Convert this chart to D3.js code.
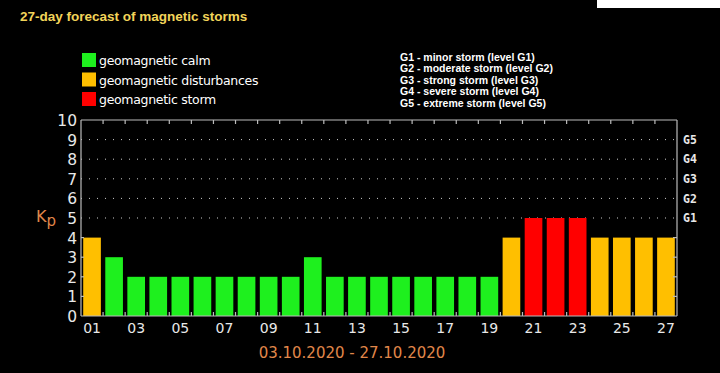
<!DOCTYPE html>
<html><head><meta charset="utf-8">
<script src="https://cdn.jsdelivr.net/npm/d3@7"></script>
<style>html,body{margin:0;padding:0;background:#000;overflow:hidden}</style>
</head><body>
<svg id="c" width="720" height="373"></svg>
<script>
const days = ["01","02","03","04","05","06","07","08","09","10","11","12","13","14","15","16","17","18","19","20","21","22","23","24","25","26","27"];
const kp = [4,3,2,2,2,2,2,2,2,2,3,2,2,2,2,2,2,2,2,4,5,5,5,4,4,4,4];
const yTicks = [0,1,2,3,4,5,6,7,8,9,10];
const gLevels = ["G1","G2","G3","G4","G5"];
const gValues = [5,6,7,8,9];
const legendLabels = ["geomagnetic calm","geomagnetic disturbances","geomagnetic storm"];
const legendColors = ["#1ef01e","#ffbf00","#ff0000"];
const gLegend = ["G1 - minor storm (level G1)","G2 - moderate storm (level G2)","G3 - strong storm (level G3)","G4 - severe storm (level G4)","G5 - extreme storm (level G5)"];
const title = "27-day forecast of magnetic storms";
const dateRange = "03.10.2020 - 27.10.2020";

const svg = d3.select("#c");
svg.append("rect").attr("width",720).attr("height",373).attr("fill","#000");
svg.append("rect").attr("x",597).attr("y",0).attr("width",123).attr("height",8).attr("fill","#fff");

const L=81, R=677, T=120, B=316;
const x = d3.scaleBand().domain(days).range([L,R]).paddingInner(0.2).paddingOuter(0.1);
const xb = d3.scaleBand().domain(days).range([L,R]);
const y = d3.scaleLinear().domain([0,10]).range([B,T]);
const col = v => v>=5 ? legendColors[2] : (v>=4 ? legendColors[1] : legendColors[0]);

svg.append("text").attr("x",20).attr("y",21).text(title)
  .attr("fill","#f2d45a").attr("font-family","Liberation Sans, Arial").attr("font-weight","bold").attr("font-size",13.5);

const lg = svg.append("g");
legendLabels.forEach((t,i)=>{
  lg.append("rect").attr("x",82).attr("y",53+i*19.5).attr("width",14).attr("height",14).attr("fill",legendColors[i]);
  lg.append("text").attr("x",99).attr("y",65+i*19.5).text(t).attr("fill","#fff")
    .attr("font-family","DejaVu Sans").attr("font-size",12.5).attr("letter-spacing",-0.3);
});
gLegend.forEach((t,i)=>{
  svg.append("text").attr("x",400).attr("y",61+i*11.4).text(t).attr("fill","#fff")
    .attr("font-family","Liberation Sans, Arial").attr("font-weight","bold").attr("font-size",10.5);
});

// dotted grid
const grid = svg.append("g");
gValues.forEach(v=>{
  grid.append("line").attr("x1",L).attr("x2",R).attr("y1",y(v)).attr("y2",y(v))
    .attr("stroke","#ccc").attr("stroke-width",1).attr("stroke-dasharray","1,7");
});

// bars
svg.append("g").selectAll("rect").data(kp).join("rect")
  .attr("x",(d,i)=>x(days[i])).attr("width",x.bandwidth())
  .attr("y",d=>y(d)).attr("height",d=>y(0)-y(d)).attr("fill",d=>col(d));

// frame
const fr = svg.append("g").attr("stroke","#bbb").attr("stroke-width",1.2);
fr.append("line").attr("x1",L).attr("x2",R).attr("y1",T).attr("y2",T);
fr.append("line").attr("x1",L).attr("x2",R).attr("y1",B).attr("y2",B);
fr.append("line").attr("x1",L).attr("x2",L).attr("y1",T).attr("y2",B);
fr.append("line").attr("x1",R).attr("x2",R).attr("y1",T).attr("y2",B);

// band boundary ticks top & bottom
days.slice(1).forEach(d=>{
  const xx = xb(d);
  fr.append("line").attr("x1",xx).attr("x2",xx).attr("y1",T).attr("y2",T+4);
  fr.append("line").attr("x1",xx).attr("x2",xx).attr("y1",B).attr("y2",B-4);
});
// right ticks
[1,2,3,4].forEach(v=>{
  fr.append("line").attr("x1",R).attr("x2",R-4).attr("y1",y(v)).attr("y2",y(v));
  fr.append("line").attr("x1",L).attr("x2",L+3).attr("y1",y(v)).attr("y2",y(v));
});

// left axis
const yAxis = d3.axisLeft(y).tickValues(yTicks).tickSize(0).tickPadding(4);
const ya = svg.append("g").attr("transform",`translate(${L},0)`).call(yAxis);
ya.select(".domain").remove();
ya.selectAll("text").attr("fill","#e8e8e8").attr("font-family","DejaVu Sans").attr("font-size",15.5).attr("dy","0.36em");

// right G axis
const gScale = d3.scaleOrdinal().domain(gLevels).range(gValues.map(v=>y(v)));
const ra = svg.append("g").attr("transform",`translate(${R},0)`)
  .call(d3.axisRight(y).tickValues(gValues).tickFormat((d,i)=>gLevels[i]).tickSize(0).tickPadding(6));
ra.select(".domain").remove();
ra.selectAll("text").attr("fill","#e8e8e8").attr("font-family","DejaVu Sans Mono").attr("font-weight","bold").attr("font-size",11.5);

// bottom axis
const xa = svg.append("g").attr("transform",`translate(0,${B})`)
  .call(d3.axisBottom(x).tickValues(days.filter((d,i)=>i%2===0)).tickSize(0).tickPadding(7));
xa.select(".domain").remove();
xa.selectAll("text").attr("fill","#e8e8e8").attr("font-family","DejaVu Sans").attr("font-size",14);

// Kp
const kt = svg.append("text").attr("x",36).attr("y",222).attr("fill","#e0874a").attr("font-family","DejaVu Sans").attr("font-size",16);
kt.append("tspan").text("K");
kt.append("tspan").text("p").attr("dy",4).attr("font-size",15);

svg.append("text").attr("x",352).attr("y",358).attr("text-anchor","middle").text(dateRange)
  .attr("fill","#e0874a").attr("font-family","DejaVu Sans").attr("font-size",15);
</script>
</body></html>
